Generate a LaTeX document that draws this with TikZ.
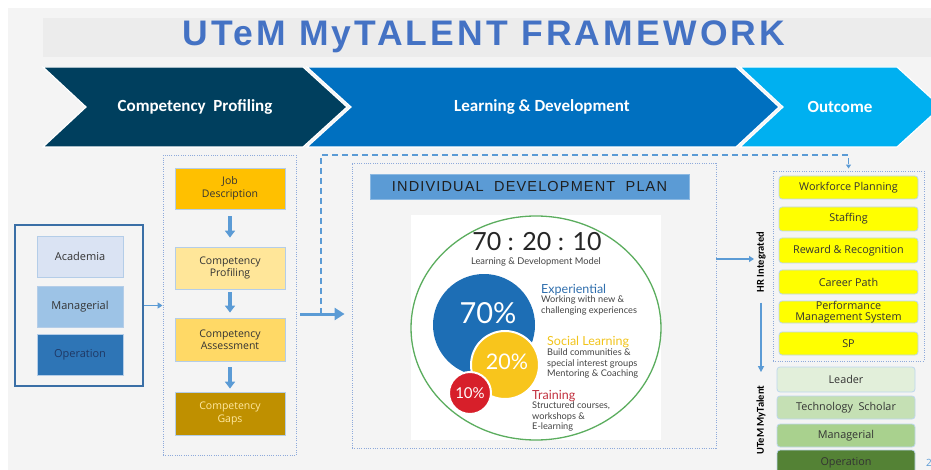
\documentclass[tikz,border=0pt]{standalone}
\usepackage{fontspec}
\setmainfont{Open Sans}
\newfontfamily\titlefont[LetterSpace=9]{Liberation Sans}
\newfontfamily\idpfont[LetterSpace=8]{Liberation Sans}
\newfontfamily\chevfont{Carlito}
\newfontfamily\latofont{Lato}
\usetikzlibrary{arrows.meta,calc}
\definecolor{bggray}{HTML}{F4F4F4}
\definecolor{bandgray}{HTML}{ECECEC}
\definecolor{titleblue}{HTML}{4472C4}
\definecolor{chevA}{HTML}{003F5E}
\definecolor{chevB}{HTML}{0070C0}
\definecolor{chevC}{HTML}{00B0F0}
\definecolor{roleedge}{HTML}{3A6FA6}
\definecolor{acad}{HTML}{DAE3F3}
\definecolor{manag}{HTML}{9DC3E6}
\definecolor{oper}{HTML}{2E75B6}
\definecolor{opertext}{HTML}{1F3864}
\definecolor{boxedge}{HTML}{B4CDE8}
\definecolor{jobc}{HTML}{FFC000}
\definecolor{cprofc}{HTML}{FFE699}
\definecolor{cassc}{HTML}{FFD966}
\definecolor{cgapsc}{HTML}{BF9000}
\definecolor{gapstext}{HTML}{FFE9A0}
\definecolor{arrowblue}{HTML}{5B9BD5}
\definecolor{dotblue}{HTML}{8EAADB}
\definecolor{idpblue}{HTML}{5B9BD5}
\definecolor{greenc}{HTML}{5BAD5E}
\definecolor{c70}{HTML}{1D6EB5}
\definecolor{c20}{HTML}{F8C51C}
\definecolor{c10}{HTML}{D71F2A}
\definecolor{expblue}{HTML}{2F6EAD}
\definecolor{socyellow}{HTML}{F2C41B}
\definecolor{trainred}{HTML}{C2303E}
\definecolor{smalltext}{HTML}{444444}
\definecolor{textdark}{HTML}{333333}
\definecolor{yel}{HTML}{FFFF00}
\definecolor{outedge}{HTML}{BDD7EE}
\definecolor{lead}{HTML}{E2EFDA}
\definecolor{techs}{HTML}{C5E0B4}
\definecolor{mgr}{HTML}{A9D18E}
\definecolor{opg}{HTML}{548235}
\begin{document}
\begin{tikzpicture}[x=1pt,y=-1pt,
  rolebox/.style={rectangle, draw=boxedge, line width=0.8pt, minimum width=86pt, minimum height=41pt, font=\fontsize{11}{12}\selectfont, text=textdark, inner sep=1pt},
  compbox/.style={rectangle, draw=boxedge, line width=0.8pt, minimum width=110pt, align=center, font=\fontsize{10.5}{12.5}\selectfont, text=textdark, inner sep=1pt},
  outcomebox/.style={rectangle, rounded corners=3pt, draw=outedge, line width=0.8pt, minimum width=139pt, align=center, font=\fontsize{10.8}{11}\selectfont, text=textdark, inner sep=0pt},
  talentbox/.style={outcomebox, minimum width=138pt},
  dotbox/.style={draw=dotblue, line width=0.9pt, dash pattern=on 1pt off 1.3pt},
  blockarrow/.style={draw=arrowblue, line width=3.5pt, -{Triangle[width=10pt,length=7pt]}},
  connline/.style={draw=arrowblue, line width=1.4pt},
  chevtext/.style={text=white, font=\chevfont\bfseries\fontsize{17}{20}\selectfont},
  sidehead/.style={anchor=west, inner sep=0pt, font=\latofont\fontsize{12.5}{14}\selectfont},
  sidetext/.style={anchor=north west, inner sep=0pt, align=left, text=smalltext, font=\latofont\fontsize{9.2}{10.2}\selectfont},
  pct/.style={text=white, font=\latofont\fontsize{#1}{#1}\selectfont},
  vlabel/.style={rotate=90, text=black, font=\chevfont\bfseries\fontsize{10.5}{12}\selectfont}
]
\useasboundingbox (0,0) rectangle (931,470);
\clip (0,0) rectangle (931,470);
\fill[white] (0,0) rectangle (931,470);
\fill[bggray] (8,8) rectangle (931,470);
% title band
\fill[bandgray] (43,18) rectangle (931,57);
\node[text=titleblue, font=\titlefont\bfseries\fontsize{35.5}{38}\selectfont] (title) at (484,37) {UTeM MyTALENT FRAMEWORK};
% chevrons
\filldraw[fill=chevA, draw=white, line width=1.2pt] (43,67) -- (303,67) -- (347,107) -- (303,147) -- (43,147) -- (86,107) -- cycle;
\filldraw[fill=chevB, draw=white, line width=1.2pt] (307,67) -- (736,67) -- (779,107) -- (736,147) -- (307,147) -- (351,107) -- cycle;
\filldraw[fill=chevC, draw=white, line width=1.2pt] (740,67) -- (897,67) -- (941,107) -- (897,147) -- (740,147) -- (783,107) -- cycle;
\node[chevtext] (ch1) at (195,107) {Competency\ \ Profiling};
\node[chevtext] (ch2) at (542,107) {Learning \& Development};
\node[chevtext] (ch3) at (840,107) {Outcome};
% roles
\node[draw=roleedge, line width=2.4pt, minimum width=128pt, minimum height=161pt] (rolesbox) at (79,305.5) {};
\node[rolebox, fill=acad] (academia) at (80,256.5) {Academia};
\node[rolebox, fill=manag] (managerial) at (80,306.5) {Managerial};
\node[rolebox, fill=oper, text=opertext] (operation) at (80,354.5) {Operation};
% competency column
\node[dotbox, minimum width=133pt, minimum height=300pt] (midbox) at (229.5,305.5) {};
\node[compbox, fill=jobc, minimum height=41pt] (job) at (230,188.5) {Job\\Description};
\node[compbox, fill=cprofc, minimum height=42pt] (cprof) at (230,268) {Competency\\Profiling};
\node[compbox, fill=cassc, minimum height=43pt] (cass) at (230,339.5) {Competency\\Assessment};
\node[compbox, fill=cgapsc, text=gapstext, minimum height=43pt] (cgaps) at (230,413.5) {Competency\\Gaps};
\draw[connline, line width=1.6pt, -{Triangle[width=6pt,length=5pt]}] (rolesbox.east) -- (midbox.west);
\draw[blockarrow, shorten <=7pt, shorten >=9pt] (job) -- (cprof);
\draw[blockarrow, shorten <=3pt, shorten >=5pt] (cprof) -- (cass);
\draw[blockarrow, shorten <=6pt, shorten >=3pt] (cass) -- (cgaps);
% IDP
\node[dotbox, minimum width=364pt, minimum height=285pt] (idpbox) at (534,305.5) {};
\draw[draw=arrowblue, line width=3pt, -{Triangle[width=12pt,length=10pt]}, shorten <=4pt, shorten >=7pt] ([yshift=-8.5pt]midbox.east) -- ([yshift=-8.5pt]idpbox.west);
\node[fill=idpblue, draw=idpblue!70!white, line width=0.8pt, minimum width=319pt, minimum height=25pt, text=black!88, font=\idpfont\fontsize{14.5}{16}\selectfont] (idptitle) at (529.5,186.5) {INDIVIDUAL\ \ DEVELOPMENT\ \ PLAN};
\fill[white] (411,215) rectangle (661,440);
\draw[greenc, line width=1.3pt] (536,328) ellipse [x radius=125pt, y radius=112pt];
\node[text=black!85, font=\latofont\fontsize{25}{27}\selectfont] (ratio) at (537,242) {70 : 20 : 10};
\node[text=smalltext, font=\latofont\fontsize{9.3}{10}\selectfont] (model) at (536,262) {Learning \& Development Model};
\fill[c70] (484,325) circle[radius=51pt];
\filldraw[fill=c20, draw=white, line width=2pt] (505,365) circle[radius=34pt];
\filldraw[fill=c10, draw=white, line width=2pt] (470,393) circle[radius=21pt];
\node[pct=29] (p70) at (488,313) {70\%};
\node[pct=21.5] (p20) at (507,362) {20\%};
\node[pct=15] (p10) at (470,393) {10\%};
\node[sidehead, text=expblue] (exp) at (541,290) {Experiential};
\node[sidetext] (expd) at (541,296) {Working with new \&\\challenging experiences};
\node[sidehead, text=socyellow] (soc) at (547,342) {Social Learning};
\node[sidetext] (socd) at (547,349) {Build communities \&\\special interest groups\\Mentoring \& Coaching};
\node[sidehead, text=trainred] (train) at (532,396) {Training};
\node[sidetext] (traind) at (532,402) {Structured courses,\\workshops \&\\E-learning};
% HR integrated
\node[vlabel] (hrlabel) at (761,262) {HR Integrated};
\node[vlabel] (mylabel) at (761,420) {UTeM MyTalent};
\coordinate (hrin) at (754,259);
\draw[connline, -{Triangle[width=6pt,length=5pt]}] ([yshift=46.5pt]idpbox.east) -- (hrin);
\draw[connline, -{Triangle[width=6pt,length=6pt]}, shorten <=7pt, shorten >=10pt] (hrlabel.west) -- (mylabel.east);
% outcome
\node[dotbox, minimum width=151pt, minimum height=190pt] (outbox) at (848.5,266) {};
\node[outcomebox, fill=yel, minimum height=23pt] (wp) at (848.5,187.5) {Workforce Planning};
\node[outcomebox, fill=yel, minimum height=24pt] (st) at (848.5,219) {Staffing};
\node[outcomebox, fill=yel, minimum height=25pt] (rr) at (848.5,250.5) {Reward \& Recognition};
\node[outcomebox, fill=yel, minimum height=24pt] (cp) at (848.5,282) {Career Path};
\node[outcomebox, fill=yel, minimum height=22pt] (pms) at (848.5,312) {Performance\\Management System};
\node[outcomebox, fill=yel, minimum height=23pt] (sp) at (848.5,343.5) {SP};
\node[talentbox, fill=lead] (leader) at (846,379.5) [minimum height=25pt] {Leader};
\node[talentbox, fill=techs] (ts) at (846,407.5) [minimum height=23pt] {Technology\ \ Scholar};
\node[talentbox, fill=mgr] (mg) at (846,435.5) [minimum height=23pt] {Managerial};
\node[talentbox, fill=opg] (op) at (846,462.5) [minimum height=25pt] {Operation};
% dashed link
\coordinate (dstart) at (321,314);
\coordinate (dturn) at (321,155);
\draw[draw=arrowblue, line width=1.8pt, dash pattern=on 6pt off 4pt, -{Triangle[width=5pt,length=4pt]}, shorten >=2pt] (dstart) -- (dturn) -| (outbox.north);
\node[anchor=west, text=arrowblue, font=\fontsize{10}{12}\selectfont, inner sep=0pt] (pnum) at (926,463) {2};
\end{tikzpicture}
\end{document}
